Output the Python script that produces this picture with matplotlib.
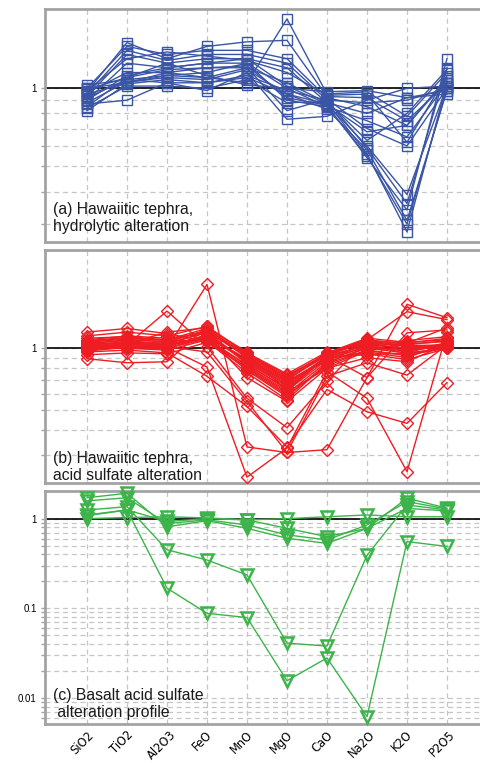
import numpy as np
import matplotlib.pyplot as plt
from matplotlib.ticker import FixedLocator, FuncFormatter, NullFormatter
from matplotlib.transforms import ScaledTranslation

oxides = ["SiO2", "TiO2", "Al2O3", "FeO", "MnO", "MgO", "CaO", "Na2O", "K2O", "P2O5"]

# (a) Hawaiitic tephra, hydrolytic alteration (normalised to parent)
hydrolytic = [
    [0.95, 1.05, 1.15, 1.10, 1.20, 1.05, 0.88, 0.56, 0.28, 1.05],
    [0.92, 1.08, 1.12, 1.15, 1.25, 1.00, 0.85, 0.55, 0.30, 1.00],
    [0.88, 1.06, 1.10, 1.08, 1.18, 0.95, 0.83, 0.58, 0.31, 0.98],
    [0.85, 1.10, 1.18, 1.20, 1.22, 0.92, 0.86, 0.54, 0.34, 1.30],
    [0.82, 1.04, 1.08, 1.05, 1.12, 0.98, 0.90, 0.59, 0.36, 1.20],
    [0.90, 1.12, 1.20, 1.25, 1.30, 1.02, 0.87, 0.60, 0.39, 1.02],
    [1.00, 1.05, 1.12, 1.10, 1.05, 1.85, 0.95, 0.97, 0.78, 1.15],
    [0.97, 1.50, 1.30, 1.45, 1.51, 1.53, 0.93, 0.92, 0.75, 1.05],
    [1.00, 1.45, 1.35, 1.40, 1.40, 1.30, 0.92, 0.85, 0.72, 1.10],
    [0.95, 1.40, 1.28, 1.35, 1.35, 1.25, 0.90, 0.88, 0.90, 1.00],
    [0.93, 1.35, 1.25, 1.30, 1.30, 1.20, 0.88, 0.80, 0.92, 0.98],
    [0.98, 1.30, 1.38, 1.33, 1.28, 1.15, 0.94, 0.95, 0.62, 1.12],
    [0.90, 1.25, 1.20, 1.25, 1.25, 0.90, 0.85, 0.75, 0.65, 1.05],
    [0.96, 1.15, 1.15, 1.20, 1.20, 0.82, 0.91, 0.70, 0.60, 1.00],
    [1.03, 1.08, 1.05, 1.05, 1.10, 0.95, 0.87, 0.68, 0.72, 1.08],
    [0.87, 0.90, 1.05, 0.98, 1.15, 0.76, 0.78, 0.90, 1.00, 1.02],
    [0.84, 1.02, 1.02, 1.00, 1.08, 0.88, 0.89, 0.63, 0.80, 1.18],
    [0.99, 1.10, 1.25, 1.12, 1.03, 1.00, 0.97, 0.98, 0.92, 0.95],
]

# (b) Hawaiitic tephra, acid sulfate alteration
acid_tephra = [
    [1.00, 1.05, 1.02, 1.15, 0.88, 0.68, 0.90, 1.05, 1.00, 1.05],
    [1.03, 1.08, 1.05, 1.20, 0.85, 0.65, 0.92, 1.08, 1.02, 1.03],
    [1.05, 1.10, 1.08, 1.22, 0.90, 0.70, 0.94, 1.10, 1.05, 1.08],
    [0.98, 1.02, 1.00, 1.12, 0.82, 0.62, 0.88, 1.02, 0.98, 1.02],
    [1.08, 1.12, 1.10, 1.25, 0.92, 0.72, 0.95, 1.12, 1.07, 1.10],
    [1.02, 1.00, 0.98, 1.10, 0.80, 0.60, 0.86, 1.00, 0.95, 1.00],
    [1.10, 1.15, 1.12, 1.18, 0.95, 0.75, 0.96, 1.06, 1.03, 1.04],
    [1.00, 1.06, 1.04, 1.14, 0.78, 0.58, 0.84, 0.98, 0.92, 1.02],
    [1.15, 1.20, 1.15, 1.28, 0.94, 0.74, 0.93, 1.09, 1.06, 1.12],
    [0.99, 1.04, 1.03, 1.16, 0.86, 0.66, 0.89, 0.96, 0.90, 1.06],
    [1.04, 1.07, 1.06, 1.19, 0.84, 0.63, 0.91, 1.04, 1.00, 1.01],
    [1.20, 1.25, 1.18, 1.08, 0.76, 0.56, 0.85, 1.01, 0.97, 1.04],
    [1.06, 1.09, 1.05, 1.13, 0.89, 0.69, 0.87, 1.07, 1.04, 1.09],
    [1.01, 1.03, 1.01, 1.11, 0.83, 0.64, 0.90, 0.94, 0.88, 1.00],
    [1.12, 1.14, 1.10, 1.21, 0.91, 0.71, 0.92, 1.03, 1.09, 1.14],
    [0.97, 1.01, 0.99, 1.17, 0.87, 0.67, 0.91, 0.93, 0.95, 1.07],
    [1.07, 1.11, 1.07, 1.23, 0.93, 0.73, 0.94, 1.11, 0.99, 1.03],
    [0.93, 0.95, 0.94, 1.07, 0.81, 0.61, 0.80, 0.90, 0.86, 1.05],
    [1.09, 1.13, 1.09, 1.09, 0.79, 0.59, 0.82, 0.98, 1.01, 1.02],
    [1.03, 1.05, 1.20, 1.26, 0.96, 0.70, 0.95, 1.05, 0.94, 1.01],
    [1.00, 1.02, 1.03, 1.15, 0.72, 0.55, 0.80, 0.97, 0.93, 1.00],
    [1.05, 1.06, 1.04, 1.12, 0.88, 0.69, 0.89, 1.02, 1.06, 1.26],
    [1.02, 1.04, 1.52, 1.02, 0.57, 0.41, 0.69, 1.10, 1.51, 1.38],
    [0.99, 1.01, 1.00, 2.05, 0.33, 0.31, 0.32, 0.72, 1.64, 1.41],
    [1.01, 1.00, 1.01, 0.81, 0.235, 0.326, 0.77, 0.57, 0.25, 1.20],
    [0.96, 0.98, 0.95, 0.73, 0.52, 0.33, 0.63, 0.49, 0.43, 0.68],
    [1.03, 1.05, 1.02, 0.96, 0.55, 0.31, 0.73, 0.85, 0.74, 1.04],
    [0.89, 0.85, 0.86, 1.28, 0.94, 0.62, 0.92, 0.72, 1.19, 1.23],
]

# (c) Basalt acid sulfate alteration profile
acid_profile = [
    [1.08, 1.25, 0.168, 0.088, 0.079, 0.0156, 0.028, 0.0062, 0.555, 0.49],
    [1.25, 1.36, 0.45, 0.346, 0.236, 0.041, 0.038, 0.39, 1.42, 1.25],
    [1.71, 1.92, 0.81, 0.95, 0.78, 0.605, 0.53, 0.78, 1.69, 1.31],
    [1.58, 1.71, 0.88, 0.97, 0.85, 0.66, 0.58, 0.85, 1.55, 1.28],
    [1.00, 1.03, 1.05, 1.02, 0.97, 1.00, 1.05, 1.10, 1.05, 1.05],
    [1.10, 1.25, 0.93, 1.00, 0.97, 0.78, 0.63, 0.78, 1.30, 1.22],
]

panel_a_text = "(a) Hawaiitic tephra,\nhydrolytic alteration"
panel_b_text = "(b) Hawaiitic tephra,\nacid sulfate alteration"
panel_c_text = "(c) Basalt acid sulfate\n alteration profile"

blue = "#3a55a5"
red = "#ee1d23"
green = "#3cb44a"
spine_grey = "#a3a3a3"
grid_grey = "#c6c6c6"

W, H = 480, 763
fig = plt.figure(figsize=(W / 100, H / 100), dpi=100)

left = 45 / W
width = 442 / W


def make_axes(top_px, bottom_px):
    return fig.add_axes([left, (H - bottom_px) / H, width, (bottom_px - top_px) / H])


ax_a = make_axes(9, 242)
ax_b = make_axes(250, 483)
ax_c = make_axes(490.7, 724.3)

minor_ab = [0.2, 0.3, 0.4, 0.5, 0.6, 0.7, 0.8, 0.9]
minor_c = [0.006, 0.007, 0.008, 0.009,
           0.02, 0.03, 0.04, 0.05, 0.06, 0.07, 0.08, 0.09] + minor_ab


def draw_panel(ax, rows, color, marker, ms, mew, ylim, major, minor, label, text_dy):
    x = np.arange(len(oxides))
    for row in rows:
        ax.plot(x, row, color=color, lw=1.0, marker=marker, ms=ms,
                mfc="none", mec=color, mew=mew, zorder=3, clip_on=False)
    ax.set_yscale("log")
    ax.set_ylim(*ylim)
    ax.set_xlim(-1.05, 10.0)
    ax.axhline(1, color="black", lw=1.2, zorder=2)

    ax.yaxis.set_major_locator(FixedLocator(major))
    ax.yaxis.set_minor_locator(FixedLocator(minor))
    ax.yaxis.set_major_formatter(FuncFormatter(lambda v, _: f"{v:g}"))
    ax.yaxis.set_minor_formatter(NullFormatter())
    ax.set_xticks(x)

    ax.grid(True, which="both", axis="y", ls=(0, (4, 3)), color=grid_grey, lw=0.9, zorder=0)
    ax.grid(True, which="major", axis="x", ls=(0, (4, 3)), color=grid_grey, lw=0.9, zorder=0)
    ax.set_axisbelow(True)

    ax.tick_params(axis="y", which="both", direction="out", length=3, width=1,
                   color=spine_grey, labelsize=7, pad=3)
    ax.tick_params(axis="x", length=0)
    for lbl in ax.get_yticklabels():
        lbl.set_fontfamily("Liberation Sans")

    for side in ["left", "top", "bottom", "right"]:
        ax.spines[side].set_color(spine_grey)
        ax.spines[side].set_linewidth(2)

    ax.annotate(label, xy=(0, 0), xycoords="axes fraction",
                xytext=(8, text_dy), textcoords="offset pixels",
                ha="left", va="bottom", fontsize=11.3,
                fontfamily="Liberation Sans", color="#1a1a1a", zorder=5)


draw_panel(ax_a, hydrolytic, blue, "s", 7.5, 1.0, (0.256, 2.02), [1], minor_ab, panel_a_text, 8)
draw_panel(ax_b, acid_tephra, red, "D", 5.8, 1.0, (0.22, 3.02), [1], minor_ab, panel_b_text, 0)
draw_panel(ax_c, acid_profile, green, "v", 8.0, 1.8, (0.0051, 2.05), [0.01, 0.1, 1], minor_c, panel_c_text, 4)

ax_a.set_xticklabels([])
ax_b.set_xticklabels([])
ax_c.set_xticklabels(oxides, rotation=45, ha="center", va="top", fontsize=8.3,
                     fontfamily="DejaVu Sans")
ax_c.tick_params(axis="x", pad=3)
shift = ScaledTranslation(-5 / 100, 0, fig.dpi_scale_trans)
for lbl in ax_c.get_xticklabels():
    lbl.set_transform(lbl.get_transform() + shift)

fig.savefig("out.png", dpi=100)
